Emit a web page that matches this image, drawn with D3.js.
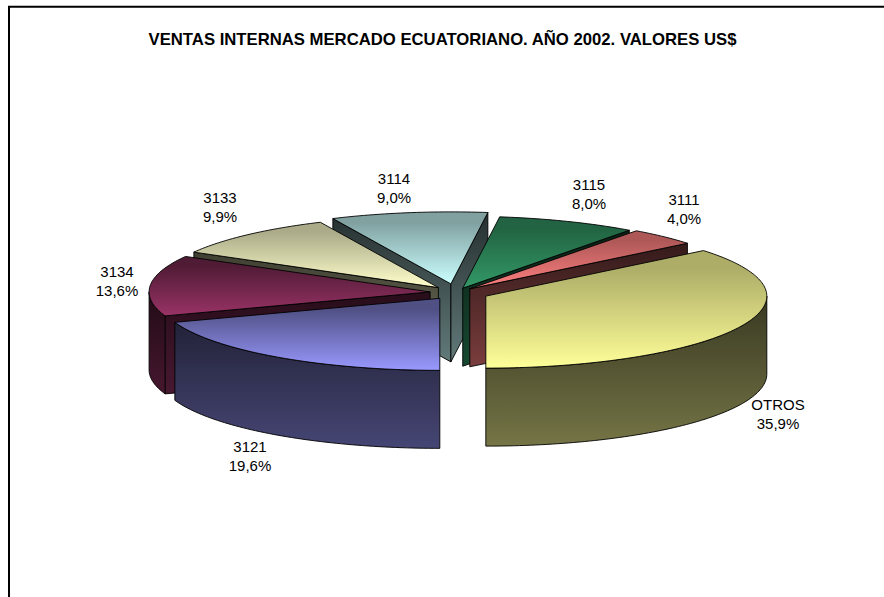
<!DOCTYPE html>
<html>
<head>
<meta charset="utf-8">
<script src="https://cdnjs.cloudflare.com/ajax/libs/d3/7.8.5/d3.min.js"></script>
<style>
  html, body { margin: 0; padding: 0; background: #fff; overflow: hidden; }
  text { font-family: "Liberation Sans", Arial, sans-serif; fill: #000; }
</style>
</head>
<body>
<div id="chart"></div>
<script>
// Chart data, clockwise starting with the big OTROS slice
const categories = ['OTROS', '3121', '3134', '3133', '3114', '3115', '3111'];
const shares = [35.9, 19.6, 13.6, 9.9, 9.0, 8.0, 4.0];
const titleText = 'VENTAS INTERNAS MERCADO ECUATORIANO. AÑO 2002. VALORES US$';

// Per slice explosion, colours and label anchors
const explode = [33, 28, 26, 26, 34, 18, 20];
const topLight = ['#FFFF99', '#9999FF', '#993366', '#FFFFCC', '#CCFFFF', '#339966', '#FF8080'];
const topDark = [0.68, 0.52, 0.52, 0.67, 0.63, 0.65, 0.68];
const labelPos = [[778, 414], [250, 456], [117, 281], [220, 207], [394, 188], [589, 194], [684, 209]];

const width = 884, height = 597;
const cx = 456, cy = 292.5;
const rx = 281, ry = 72, depth = 78;

const fmt = v => v.toFixed(1).replace('.', ',') + '%';

const svg = d3.select('#chart').append('svg')
    .attr('width', width)
    .attr('height', height);
const defs = svg.append('defs');

// Frame
svg.append('path')
    .attr('d', `M9,${height + 5}V6.7H${width + 5}`)
    .attr('fill', 'none')
    .attr('stroke', '#000')
    .attr('stroke-width', 2);

svg.append('text')
    .attr('x', 442.5)
    .attr('y', 45)
    .attr('text-anchor', 'middle')
    .style('font-size', '16.7px')
    .style('font-weight', 'bold')
    .text(titleText);

// Angles: OTROS ends exactly at the front of the pie
const pie = d3.pie().sort(null)
    .startAngle(Math.PI - 2 * Math.PI * shares[0] / 100)
    .endAngle(3 * Math.PI - 2 * Math.PI * shares[0] / 100);
const slices = pie(shares).map((d, i) => {
    const mid = (d.startAngle + d.endAngle) / 2;
    return {
        i,
        a: d.startAngle,
        b: d.endAngle,
        mid,
        ox: cx + explode[i] * Math.sin(mid),
        oy: cy - explode[i] * (ry / rx) * Math.cos(mid)
    };
});

const px = (s, t) => s.ox + rx * Math.sin(t);
const py = (s, t) => s.oy - ry * Math.cos(t);

function arcPoints(s, from, to) {
    const n = Math.max(2, Math.ceil((to - from) / 0.02));
    return d3.range(n + 1).map(k => {
        const t = from + (to - from) * k / n;
        return [px(s, t), py(s, t)];
    });
}

function gradient(id, y1, y2, c1, c2) {
    const g = defs.append('linearGradient')
        .attr('id', id)
        .attr('gradientUnits', 'userSpaceOnUse')
        .attr('x1', 0).attr('x2', 0)
        .attr('y1', y1).attr('y2', y2);
    g.append('stop').attr('offset', 0).attr('stop-color', c1);
    g.append('stop').attr('offset', 1).attr('stop-color', c2);
    return `url(#${id})`;
}

const mix = (c, k) => d3.interpolateRgb('#000', c)(k);
const line = d3.line();

function drawFace(g, pts, fill) {
    g.append('path')
        .attr('d', line(pts) + 'Z')
        .attr('fill', fill)
        .attr('stroke', '#000')
        .attr('stroke-width', 0.9)
        .attr('stroke-linejoin', 'round');
}

// Paint from the back of the pie to the front
slices.slice().sort((p, q) => d3.descending(Math.cos(p.mid), Math.cos(q.mid))).forEach(s => {
    const g = svg.append('g');
    const c = topLight[s.i];
    const arcTop = arcPoints(s, s.a, s.b);
    const ys = arcTop.map(p => p[1]).concat([s.oy]);
    const yMin = d3.min(ys), yMax = d3.max(ys);
    const wallFill = gradient(`wall${s.i}`, yMin, yMax + depth, mix(c, 0.18), mix(c, 0.48));

    const radial = t => [
        [s.ox, s.oy], [px(s, t), py(s, t)],
        [px(s, t), py(s, t) + depth], [s.ox, s.oy + depth]
    ];
    // Radial walls, only the ones facing the viewer
    if (Math.sin(s.a) < -1e-6) drawFace(g, radial(s.a), wallFill);
    if (Math.sin(s.b) > 1e-6) drawFace(g, radial(s.b), wallFill);

    // Outer rim, front half of the ellipse only
    const from = Math.max(s.a, Math.PI / 2), to = Math.min(s.b, 3 * Math.PI / 2);
    if (to > from) {
        const rim = arcPoints(s, from, to);
        const rimYs = rim.map(p => p[1]);
        const rimFill = gradient(`rim${s.i}`, d3.min(rimYs), d3.max(rimYs) + depth, mix(c, 0.22), mix(c, 0.46));
        drawFace(g, rim.concat(rim.map(p => [p[0], p[1] + depth]).reverse()), rimFill);
    }

    // Top face, the dark end of the gradient holds a little past the back edge
    const topFill = gradient(`top${s.i}`, yMin + (yMax - yMin) * 0.15, yMax, mix(c, topDark[s.i]), c);
    drawFace(g, [[s.ox, s.oy]].concat(arcTop), topFill);
});

// Labels
categories.forEach((name, i) => {
    const t = svg.append('text')
        .attr('text-anchor', 'middle')
        .style('font-size', '15px');
    t.append('tspan').attr('x', labelPos[i][0]).attr('y', labelPos[i][1] - 4).text(name);
    t.append('tspan').attr('x', labelPos[i][0]).attr('y', labelPos[i][1] + 15).text(fmt(shares[i]));
});
</script>
</body>
</html>
